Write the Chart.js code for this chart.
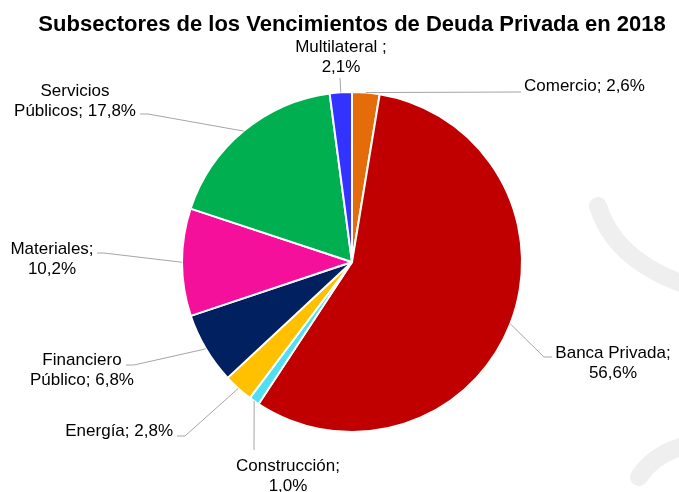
<!DOCTYPE html>
<html>
<head>
<meta charset="utf-8">
<script src="https://cdn.jsdelivr.net/npm/chart.js@4/dist/chart.umd.min.js"></script>
<style>
  html, body { margin: 0; padding: 0; background: #fff; }
  #chart { display: block; }
</style>
</head>
<body>
<canvas id="chart" width="679" height="492"></canvas>
<script>
'use strict';

// data, clockwise from 12 o'clock
var categories = ['Comercio', 'Banca Privada', 'Construcción', 'Energía', 'Financiero Público', 'Materiales', 'Servicios Públicos', 'Multilateral'];
var shares = [2.6, 56.6, 1.0, 2.8, 6.8, 10.2, 17.8, 2.1];
var sliceColors = ['#e46c0a', '#c00000', '#50dff2', '#ffc000', '#002060', '#f5109b', '#00b050', '#3333ff'];

var titleText = 'Subsectores de los Vencimientos de Deuda Privada en 2018';
var fontFamily = '"Liberation Sans", Arial, Helvetica, sans-serif';

// where each data label sits and how its leader line bends
// split: where the label wraps ('none', 'value' = before the value, 'word' = after the first word)
var labelLayout = [
    { x: 524, y: 86, align: 'left', split: 'none', sep: ';', leader: [[521, 92]] },
    { x: 613, y: 353, align: 'center', split: 'value', sep: ';', leader: [[544, 357], [552, 357]] },
    { x: 288, y: 466, align: 'center', split: 'value', sep: ';', leader: [[254, 450]] },
    { x: 173, y: 431, align: 'right', split: 'none', sep: ';', leader: [[185, 436], [177, 436]] },
    { x: 82, y: 360, align: 'center', split: 'word', sep: ';', leader: [[134, 365], [126, 365]] },
    { x: 52, y: 249, align: 'center', split: 'value', sep: ';', leader: [[104, 253], [97, 253]] },
    { x: 75, y: 91, align: 'center', split: 'word', sep: ';', leader: [[148, 114], [140, 114]] },
    { x: 341, y: 47, align: 'center', split: 'value', sep: ' ;', leader: [[340, 78]] }
];

var formatShare = function (v) {
    return v.toFixed(1).replace('.', ',') + '%';
};

var labelLines = function (i) {
    var name = categories[i];
    var lay = labelLayout[i];
    var value = formatShare(shares[i]);
    if (lay.split === 'none') {
        return [name + lay.sep + ' ' + value];
    }
    if (lay.split === 'word') {
        var cut = name.indexOf(' ');
        return [name.slice(0, cut), name.slice(cut + 1) + lay.sep + ' ' + value];
    }
    return [name + lay.sep, value];
};

// faint background strokes + title
var backdropPlugin = {
    id: 'backdrop',
    beforeDraw: function (chart) {
        var ctx = chart.ctx;
        ctx.save();
        ctx.fillStyle = '#ffffff';
        ctx.fillRect(0, 0, chart.width, chart.height);

        ctx.strokeStyle = '#efefef';
        ctx.lineWidth = 18;
        ctx.lineCap = 'round';
        ctx.beginPath();
        ctx.moveTo(598, 206);
        ctx.quadraticCurveTo(615, 262, 692, 287);
        ctx.stroke();
        ctx.beginPath();
        ctx.moveTo(639, 477);
        ctx.quadraticCurveTo(655, 452, 692, 444);
        ctx.stroke();
        ctx.restore();
    },
    afterDraw: function (chart) {
        var ctx = chart.ctx;
        ctx.save();
        ctx.fillStyle = '#000000';
        ctx.font = 'bold 22px ' + fontFamily;
        ctx.textAlign = 'center';
        ctx.textBaseline = 'middle';
        ctx.fillText(titleText, 352, 25);
        ctx.restore();
    }
};

// data labels with leader lines, anchored on each arc's outer edge
var sliceLabelPlugin = {
    id: 'sliceLabels',
    afterDatasetsDraw: function (chart) {
        var ctx = chart.ctx;
        var meta = chart.getDatasetMeta(0);
        ctx.save();
        meta.data.forEach(function (arc, i) {
            var p = arc.getProps(['x', 'y', 'startAngle', 'endAngle', 'outerRadius'], true);
            var mid = (p.startAngle + p.endAngle) / 2;
            var sx = p.x + Math.cos(mid) * p.outerRadius;
            var sy = p.y + Math.sin(mid) * p.outerRadius;
            var lay = labelLayout[i];

            ctx.strokeStyle = '#a6a6a6';
            ctx.lineWidth = 1;
            ctx.beginPath();
            ctx.moveTo(sx, sy);
            lay.leader.forEach(function (pt) {
                ctx.lineTo(pt[0], pt[1]);
            });
            ctx.stroke();

            ctx.fillStyle = '#000000';
            ctx.font = '17px ' + fontFamily;
            ctx.textAlign = lay.align;
            ctx.textBaseline = 'middle';
            labelLines(i).forEach(function (line, k) {
                ctx.fillText(line, lay.x, lay.y + k * 20);
            });
        });
        ctx.restore();
    }
};

var ctx = document.getElementById('chart').getContext('2d');
var chart = new Chart(ctx, {
    type: 'pie',
    data: {
        labels: categories,
        datasets: [{
            data: shares,
            backgroundColor: sliceColors,
            borderColor: '#ffffff',
            borderWidth: 2
        }]
    },
    options: {
        responsive: false,
        animation: false,
        events: [],
        layout: {
            padding: { top: 91, bottom: 59, left: 181, right: 156 }
        },
        plugins: {
            legend: { display: false },
            title: { display: false },
            tooltip: { enabled: false }
        }
    },
    plugins: [backdropPlugin, sliceLabelPlugin]
});
</script>
</body>
</html>
